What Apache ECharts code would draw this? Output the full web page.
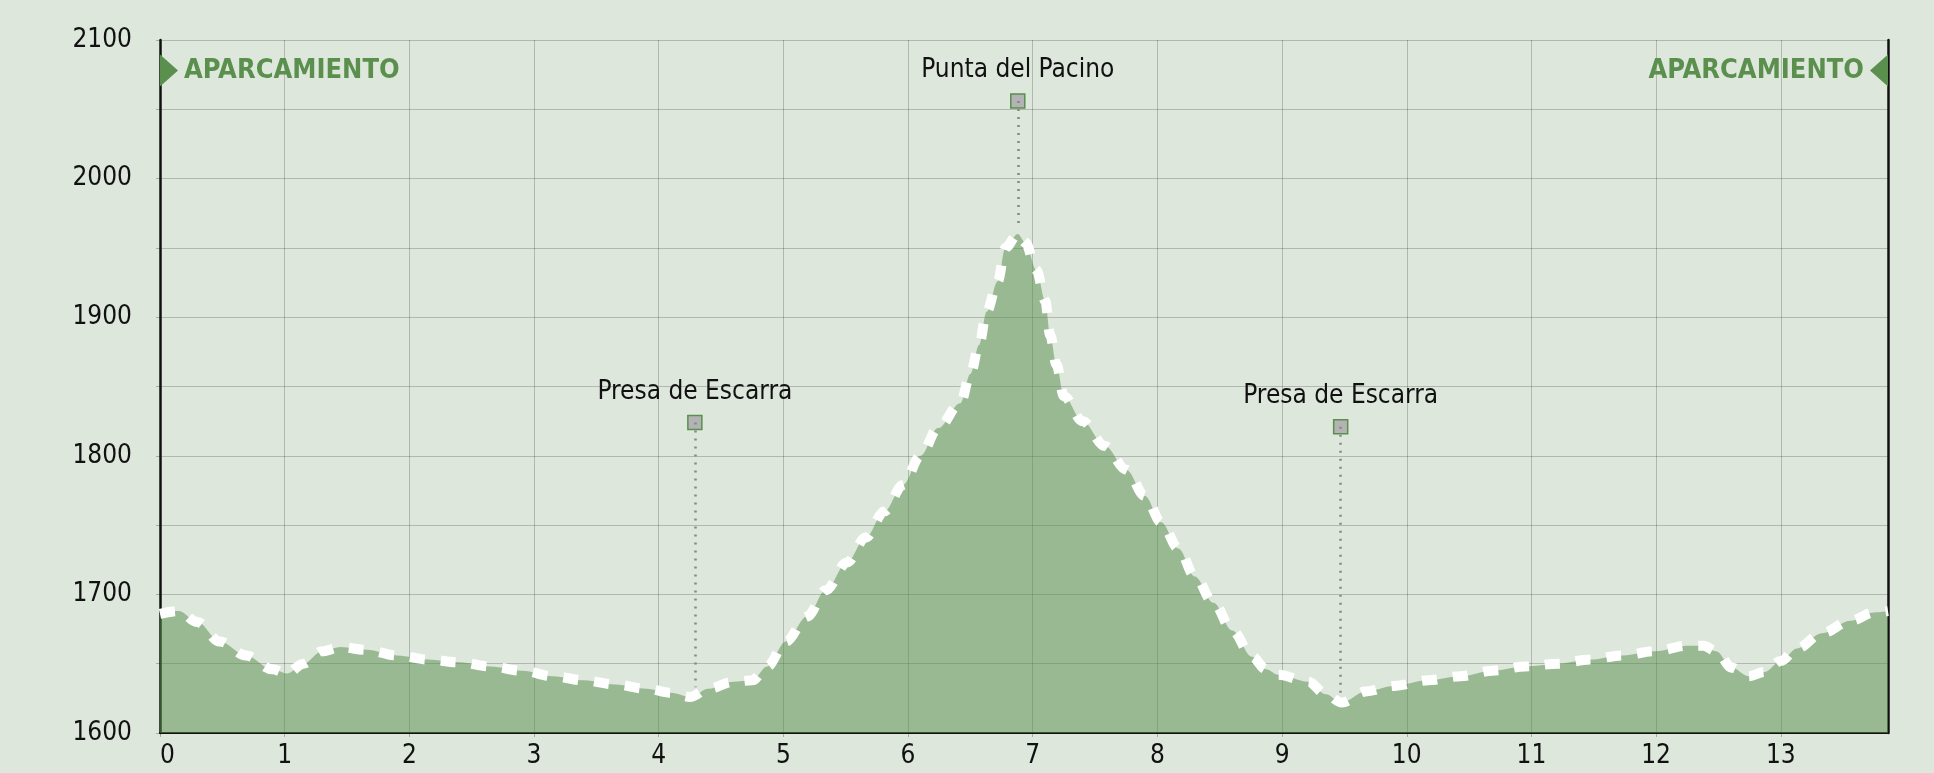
<!DOCTYPE html>
<html>
<head>
<meta charset="utf-8">
<style>
  html, body { margin: 0; padding: 0; background: #dde7dc; }
  #main { width: 1934px; height: 773px; }
</style>
<script src="https://cdn.jsdelivr.net/npm/echarts@6/dist/echarts.min.js"></script>
</head>
<body>
<div id="main"></div>
<script>
// Elevation profile (km, m)
const dist = [0.00, 0.15, 0.30, 0.48, 0.69, 0.90, 1.02, 1.15, 1.30, 1.45, 1.65, 1.90, 2.15, 2.40, 2.65,
  2.90, 3.15, 3.40, 3.65, 3.90, 4.10, 4.25, 4.40, 4.60, 4.75, 4.87, 5.02, 5.19, 5.34, 5.51, 5.66,
  5.81, 5.96, 6.10, 6.24, 6.42, 6.50, 6.57, 6.63, 6.72, 6.78, 6.88, 6.94, 7.03, 7.10, 7.14, 7.19,
  7.25, 7.40, 7.58, 7.75, 7.90, 8.03, 8.17, 8.30, 8.45, 8.60, 8.76, 8.87, 8.97, 9.21, 9.35, 9.48,
  9.67, 9.90, 10.17, 10.43, 10.69, 10.95, 11.21, 11.47, 11.73, 11.99, 12.25, 12.38, 12.48, 12.61,
  12.74, 12.87, 13.00, 13.13, 13.33, 13.56, 13.75, 13.86];
const elev = [1686, 1688, 1680, 1666, 1656, 1646, 1643, 1650, 1659, 1662, 1660, 1656, 1653, 1651, 1648,
  1645, 1641, 1638, 1635, 1632, 1629, 1626, 1632, 1637, 1638, 1648, 1666, 1684, 1703, 1723, 1741,
  1760, 1779, 1800, 1820, 1838, 1859, 1880, 1904, 1926, 1950, 1960, 1954, 1934, 1912, 1887, 1866,
  1843, 1825, 1807, 1790, 1771, 1752, 1733, 1713, 1694, 1674, 1655, 1646, 1642, 1637, 1628, 1622,
  1630, 1634, 1638, 1641, 1645, 1648, 1650, 1653, 1656, 1659, 1663, 1663, 1659, 1647,
  1641, 1644, 1652, 1661, 1672, 1681, 1687, 1688];

// Waypoints
const wpNames = ["Presa de Escarra", "Punta del Pacino", "Presa de Escarra"];
const wpDist = [4.29, 6.88, 9.47];
const wpElev = [1824, 2056, 1821];
const wpGround = [1633, 1966, 1628];

// Start / end flags
const flagNames = ["APARCAMIENTO", "APARCAMIENTO"];
const flagDist = [0, 13.86];
const flagElev = [2078, 2078];

const yMin = 1600, yMax = 2100, yStep = 50, yLabelStep = 100;
const xMin = 0, xMax = 13.86;

const green = "#5a8f4e";
const tickFont = "DejaVu Sans Condensed";

var myChart = echarts.init(document.getElementById("main"));

const profile = dist.map((d, i) => [d, elev[i]]);
const waypoints = wpDist.map((d, i) => ({ value: [d, wpElev[i]], name: wpNames[i] }));
const stems = wpDist.map((d, i) => [{ coord: [d, wpElev[i]] }, { coord: [d, wpGround[i]] }]);
const flags = flagDist.map((d, i) => {
  const left = i === 0;
  return {
    value: [d, flagElev[i]],
    name: flagNames[i],
    symbol: left ? "path://M0,0L1,0.5L0,1Z" : "path://M1,0L0,0.5L1,1Z",
    symbolOffset: left ? [9, 0] : [-9, 0],
    label: { position: left ? "right" : "left", distance: 6 },
  };
});

var option = {
  backgroundColor: "#dde7dc",
  animation: false,
  grid: { left: 160, right: 46, top: 40, bottom: 40 },
  xAxis: {
    type: "value",
    min: xMin,
    max: xMax,
    interval: 1,
    axisLine: { show: true, onZero: false, lineStyle: { color: "#111", width: 2 } },
    axisTick: { show: true, length: 4, lineStyle: { color: "rgba(0,0,0,0.25)" } },
    axisLabel: {
      color: "#111", fontFamily: tickFont, fontSize: 26, margin: 10,
      showMaxLabel: false, alignMinLabel: "left",
    },
    splitLine: { show: true, lineStyle: { color: "rgba(0,0,0,0.2)", width: 1 } },
  },
  yAxis: [
    {
      type: "value",
      min: yMin,
      max: yMax,
      interval: yStep,
      axisLine: { show: true, lineStyle: { color: "#111", width: 2.5 } },
      axisTick: { show: true, length: 4, lineStyle: { color: "rgba(0,0,0,0.25)" } },
      axisLabel: {
        color: "#111", fontFamily: tickFont, fontSize: 26, margin: 28,
        formatter: (v) => (v % yLabelStep === 0 ? String(v) : ""),
      },
      splitLine: { show: true, lineStyle: { color: "rgba(0,0,0,0.2)", width: 1 } },
    },
    {
      type: "value",
      position: "right",
      min: yMin,
      max: yMax,
      interval: yStep,
      axisLine: { show: true, lineStyle: { color: "#111", width: 2.5 } },
      axisTick: { show: false },
      axisLabel: { show: false },
      splitLine: { show: false },
    },
  ],
  series: [
    {
      name: "perfil",
      type: "line",
      data: profile,
      smooth: 0.35,
      smoothMonotone: "x",
      symbol: "none",
      lineStyle: { color: "#ffffff", width: 10, type: [15, 16], cap: "butt" },
      areaStyle: { color: "rgba(90,143,78,0.52)", opacity: 1, origin: "start" },
      z: 2,
    },
    {
      name: "puntos",
      type: "scatter",
      data: waypoints,
      symbol: "rect",
      symbolSize: 14,
      clip: false,
      itemStyle: { color: "#b3b3b3", opacity: 1, borderColor: green, borderWidth: 1.5 },
      label: {
        show: true,
        position: "top",
        distance: 10,
        formatter: "{b}",
        color: "#111",
        fontFamily: tickFont,
        fontSize: 26,
      },
      markLine: {
        silent: true,
        symbol: "none",
        label: { show: false },
        lineStyle: { color: "#888", width: 2.5, type: [2, 6] },
        data: stems,
      },
      z: 4,
    },
    {
      name: "aparcamiento",
      type: "scatter",
      data: flags,
      symbolSize: [18, 32],
      clip: false,
      itemStyle: { color: green, opacity: 1 },
      label: {
        show: true,
        formatter: "{b}",
        color: green,
        fontFamily: "DejaVu Sans Condensed",
        fontWeight: "bold",
        fontSize: 27,
      },
      z: 5,
    },
  ],
};

myChart.setOption(option);

window.onresize = function () {
  myChart.resize();
};
</script>
</body>
</html>
